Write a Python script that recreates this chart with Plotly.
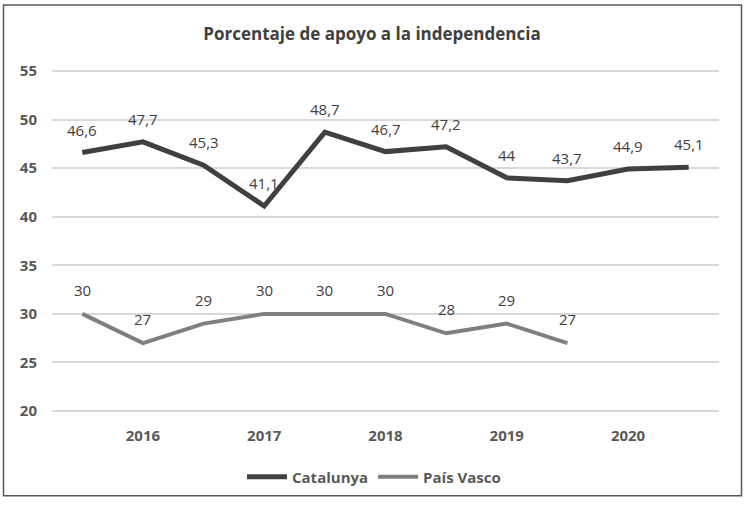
import plotly.graph_objects as go

x_idx = list(range(11))
tick_pos = [1, 3, 5, 7, 9]
tick_labels = ["2016", "2017", "2018", "2019", "2020"]
y_ticks = [20, 25, 30, 35, 40, 45, 50, 55]
catalunya = [46.6, 47.7, 45.3, 41.1, 48.7, 46.7, 47.2, 44.0, 43.7, 44.9, 45.1]
catalunya_txt = ["46,6", "47,7", "45,3", "41,1", "48,7", "46,7", "47,2", "44", "43,7", "44,9", "45,1"]
pais_vasco = [30, 27, 29, 30, 30, 30, 28, 29, 27]
pais_vasco_txt = ["30", "27", "29", "30", "30", "30", "28", "29", "27"]

W, H = 744, 505
L, R, T, B = 52, 25, 69, 87
FONT = "Open Sans"

fig = go.Figure()
fig.add_trace(go.Scatter(x=x_idx, y=catalunya, mode="lines", name="Catalunya",
                         line=dict(color="#404040", width=5)))
fig.add_trace(go.Scatter(x=x_idx[:len(pais_vasco)], y=pais_vasco, mode="lines", name="País Vasco",
                         line=dict(color="#7f7f7f", width=4)))

annots = []
for xv, yv, t in zip(x_idx, catalunya, catalunya_txt):
    annots.append(dict(x=xv, y=yv, text=t, showarrow=False, yshift=23,
                       font=dict(family=FONT, size=15, color="#404040")))
for xv, yv, t in zip(x_idx, pais_vasco, pais_vasco_txt):
    annots.append(dict(x=xv, y=yv, text=t, showarrow=False, yshift=24,
                       font=dict(family=FONT, size=15, color="#404040")))

pw, ph = W - L - R, H - T - B
def px_x(p): return (p - L) / pw
def px_y(p): return (H - B - p) / ph

fig.update_layout(
    width=W, height=H,
    margin=dict(l=L, r=R, t=T, b=B),
    paper_bgcolor="white", plot_bgcolor="white",
    title=dict(text="<b>Porcentaje de apoyo a la independencia</b>", x=0.5, xanchor="center",
               y=1 - 34 / H, yanchor="middle", xref="container", yref="container",
               font=dict(family=FONT, size=17, color="#404040")),
    font=dict(family=FONT, color="#595959"),
    xaxis=dict(range=[-0.5, 10.5], tickvals=tick_pos, ticktext=tick_labels, showgrid=False,
               zeroline=False, showline=False, ticks="",
               tickfont=dict(family=FONT, size=15, color="#595959", weight="bold"),
               ticklabelstandoff=12),
    yaxis=dict(range=[19.8, 55.2], tickvals=y_ticks,
               showgrid=True, gridcolor="#d9d9d9", gridwidth=1.5,
               zeroline=False, showline=False, ticks="",
               tickfont=dict(family=FONT, size=15, color="#595959", weight="bold"),
               ticklabelstandoff=14),
    legend=dict(orientation="h", x=px_x(374), xanchor="center", y=px_y(483), yanchor="middle",
                font=dict(family=FONT, size=15, color="#595959", weight="bold"),
                itemwidth=40),
    annotations=annots,
    shapes=[dict(type="rect", xref="paper", yref="paper",
                 x0=px_x(3.5), x1=px_x(741.5), y0=px_y(502), y1=px_y(4),
                 line=dict(color="#595959", width=1.5), fillcolor="rgba(0,0,0,0)", layer="below")],
    showlegend=True,
)
fig.write_html("out.html", config={"displayModeBar": False},
               post_script="document.body.style.margin='0';document.body.style.overflow='hidden';")
